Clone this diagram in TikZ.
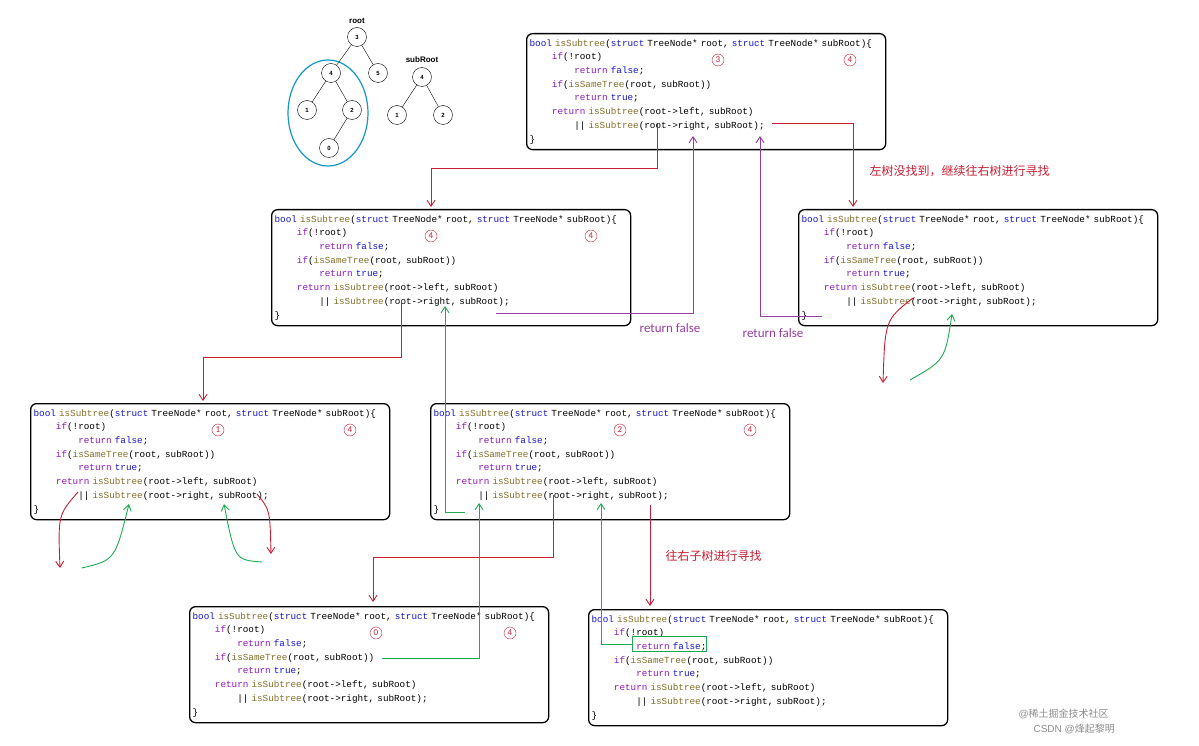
\documentclass[tikz,border=0pt]{standalone}
\usepackage{fontspec}
\setmainfont{Liberation Sans}
\setmonofont{Liberation Mono}
\newfontfamily\cjk{Noto Sans CJK SC}
\newfontfamily\lbl{Carlito}
\usetikzlibrary{calc,positioning,arrows.meta}

\definecolor{kwblue}{RGB}{20,20,200}
\definecolor{ctlpurple}{RGB}{140,20,190}
\definecolor{fnolive}{RGB}{130,110,40}
\definecolor{arrred}{RGB}{200,30,50}
\definecolor{arrpurple}{RGB}{150,60,160}
\definecolor{arrgreen}{RGB}{30,170,80}
\definecolor{ellblue}{RGB}{20,150,200}

\newcommand\kw[1]{\textcolor{kwblue}{#1}}
\newcommand\ctl[1]{\textcolor{ctlpurple}{#1}}
\newcommand\fn[1]{\textcolor{fnolive}{#1}}
\newcommand\codetext{\kw{bool} \fn{isSubtree}(\kw{struct} TreeNode* root, \kw{struct} TreeNode* subRoot)\{\\
\hphantom{abcd}\ctl{if}(!root)\\
\hphantom{abcdefgh}\ctl{return} \kw{false};\\
\hphantom{abcd}\ctl{if}(\fn{isSameTree}(root, subRoot))\\
\hphantom{abcdefgh}\ctl{return} \kw{true};\\
\hphantom{abcd}\ctl{return} \fn{isSubtree}(root->left, subRoot)\\
\hphantom{abcdefgh}|| \fn{isSubtree}(root->right, subRoot);\\
\}}

\begin{document}
\begin{tikzpicture}[x=1pt,y=-1pt,
code/.style={draw=black,line width=1.3pt,rounded corners=6pt,anchor=north west,
  font=\ttfamily\fontsize{9.3}{13.7}\selectfont,align=left,text width=353pt,
  inner xsep=3pt,inner ysep=2pt,minimum height=116pt},
circnum/.style={circle,draw=arrred,text=arrred,font=\lbl\fontsize{9}{9}\selectfont,inner sep=0.6pt,minimum size=12pt},
tnode/.style={circle,draw=black,minimum size=19pt,inner sep=0pt,font=\bfseries\fontsize{6}{6}\selectfont},
tlab/.style={font=\bfseries\fontsize{8}{8}\selectfont},
redline/.style={draw=arrred,line width=0.9pt,-{Straight Barb[length=6pt,width=8pt]}},
purpleline/.style={draw=arrpurple,line width=0.9pt,-{Straight Barb[length=6pt,width=8pt]}},
greenline/.style={draw=arrgreen,line width=0.9pt,-{Straight Barb[length=6pt,width=8pt]}},
note/.style={font=\lbl\fontsize{13}{13}\selectfont}]
\useasboundingbox (0,0) rectangle (1199,746);

% trees
\node[tnode] (t3) at (357,37) {3};
\node[tnode] (t4) at (331,73) {4};
\node[tnode] (t5) at (378,73) {5};
\node[tnode] (t1) at (307,110) {1};
\node[tnode] (t2) at (352,110) {2};
\node[tnode] (t0) at (329,148) {0};
\node[tlab,above=0pt of t3] (troot) {root};
\draw (t3) -- (t4) (t3) -- (t5) (t4) -- (t1) (t4) -- (t2) (t2) -- (t0);
\draw[ellblue,line width=1.2pt] (328,113) ellipse (40 and 53);
\node[tnode] (s4) at (422,77) {4};
\node[tnode] (s1) at (397,115) {1};
\node[tnode] (s2) at (443,115) {2};
\node[tlab,above=1pt of s4] (sroot) {subRoot};
\draw (s4) -- (s1) (s4) -- (s2);

% code boxes
\node[code] (b3) at (526,33) {\codetext};
\node[code] (b4a) at (271,209) {\codetext};
\node[code] (b4b) at (798,209) {\codetext};
\node[code] (b1) at (30,403) {\codetext};
\node[code] (b2) at (430,403) {\codetext};
\node[code] (b0) at (189,606) {\codetext};
\node[code] (bn) at (588,609) {\codetext};
\foreach \b/\p/\q/\m/\n in {b3/192/324/3/4, b4a/160/320/4/4, b1/188/320/1/4, b2/190/320/2/4, b0/187/321/0/4}{
  \node[circnum] (\b a) at ($(\b.north west)+(\p,27)$) {\m};
  \node[circnum] (\b b) at ($(\b.north west)+(\q,27)$) {\n};
}
\node[draw=arrgreen,line width=1pt,minimum width=74pt,minimum height=15pt,anchor=north west,inner sep=0pt] (nullret) at ($(bn.north west)+(44,27)$) {};

% calls to the left and right subtrees
\draw[redline] ($(b3.north west)+(131,90)$) |- ($(b4a.north west)+(160,-41)$) -- ($(b4a.north west)+(160,-2)$);
\draw[redline] ($(b3.north west)+(246,90)$) -| ($(b4b.north west)+(55,-2)$);
\node[note,text=arrred,anchor=west] (lnote) at (866,171) {\cjk\fontsize{12}{12}\selectfont 左树没找到，继续往右树进行寻找};
\draw[redline] ($(b4a.north west)+(130,91)$) |- ($(b1.north west)+(173,-46)$) -- ($(b1.north west)+(173,-2)$);
\draw[redline] ($(b2.north west)+(123,92)$) |- ($(b0.north west)+(184,-49)$) -- ($(b0.north west)+(184,-4)$);
\draw[redline] ($(b2.north west)+(220,102)$) -- ($(bn.north west)+(62,-3)$);
\node[text=arrred,anchor=west] (rnote) at (662,556) {\cjk\fontsize{12}{12}\selectfont 往右子树进行寻找};

% returns
\draw[purpleline] ($(b4a.north west)+(225,104)$) -| ($(b3.north west)+(167,103)$);
\node[note,text=arrpurple] (rf1) at (670,328) {return false};
\draw[purpleline] ($(b4b.north west)+(24,107)$) -| ($(b3.north west)+(234,103)$);
\node[note,text=arrpurple] (rf2) at (773,333) {return false};
\draw[greenline] ($(b2.north west)+(35,109)$) -| ($(b4a.north west)+(174,97)$);
\draw[greenline] ($(b0.north west)+(193,52)$) -| ($(b2.north west)+(49,100)$);
\draw[greenline] (nullret.west) -| ($(b2.north west)+(171,100)$);

% empty subtrees
\draw[redline] ($(b1.north west)+(48,89)$) .. controls (58,515) .. (60,568);
\draw[greenline] (82,568) .. controls (115,560) .. ($(b1.north west)+(99,101)$);
\draw[greenline] (262,562) .. controls (235,560) .. ($(b1.north west)+(194,101)$);
\draw[redline] ($(b1.north west)+(227,91)$) .. controls (270,510) .. (271,554);
\draw[redline] ($(b4b.north west)+(115,89)$) .. controls (885,320) .. (883,383);
\draw[greenline] (910,380) .. controls (945,360) .. ($(b4b.north west)+(154,105)$);

% watermark
\node[anchor=west,text=black!45,font=\fontsize{10}{10}\selectfont] (wm1) at (1015,714) {@\cjk 稀土掘金技术社区};
\node[anchor=west,text=black!45,font=\fontsize{10}{10}\selectfont] (wm2) at (1030,729) {CSDN @\cjk 烽起黎明};
\end{tikzpicture}
\end{document}
